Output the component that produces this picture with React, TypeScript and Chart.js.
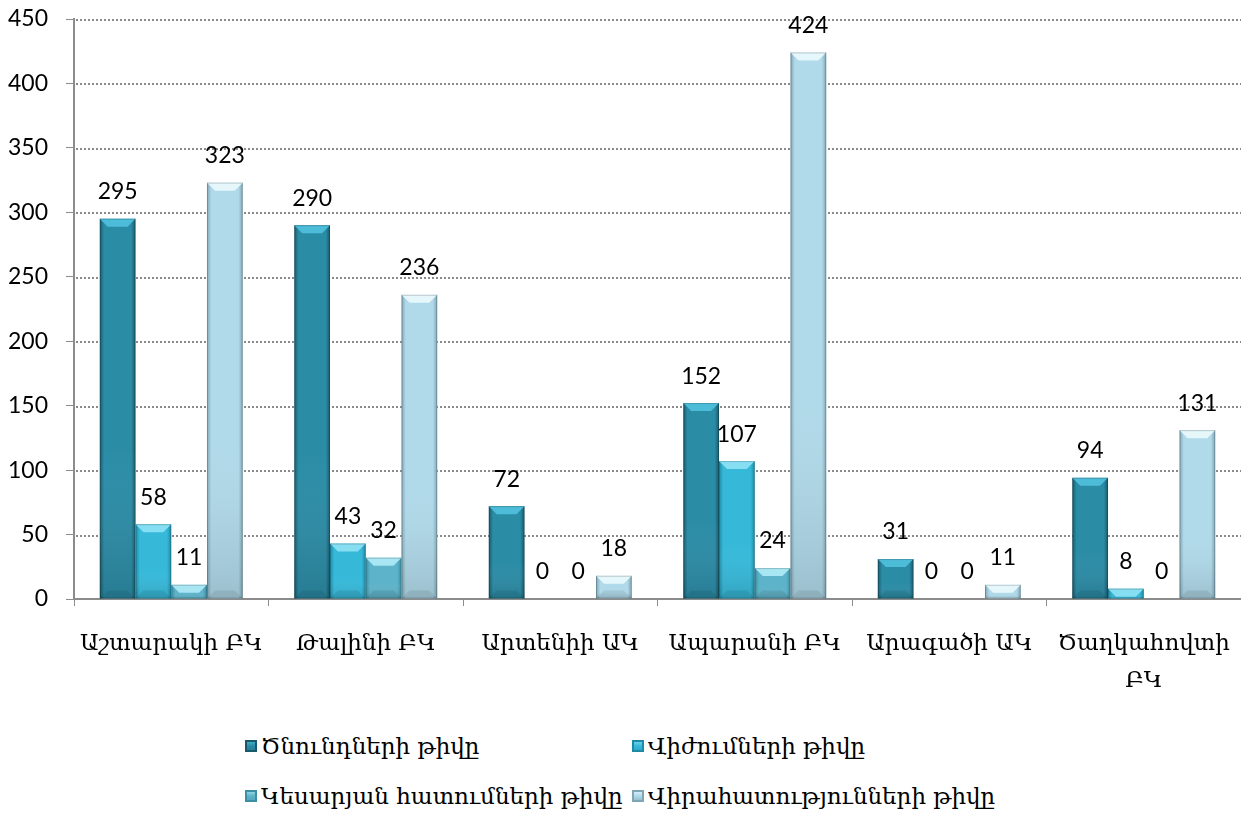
import React, { useEffect, useRef } from "react";
import { Chart, registerables } from "chart.js";

Chart.register(...registerables);

const categories: (string | string[])[] = [
  "Աշտարակի ԲԿ",
  "Թալինի ԲԿ",
  "Արտենիի ԱԿ",
  "Ապարանի ԲԿ",
  "Արագածի ԱԿ",
  ["Ծաղկահովտի", "ԲԿ"],
];

const seriesNames = [
  "Ծնունդների թիվը",
  "Վիժումների թիվը",
  "Կեսարյան հատումների թիվը",
  "Վիրահատությունների թիվը",
];

const births = [295, 290, 72, 152, 31, 94];
const abortions = [58, 43, 0, 107, 0, 8];
const cesareans = [11, 32, 0, 24, 0, 0];
const surgeries = [323, 236, 18, 424, 11, 131];

const yTicks = [0, 50, 100, 150, 200, 250, 300, 350, 400, 450];

const palettes = [
  { base: "#2b8ca6", edge: "#18596b", cap: "#4dbcd8", low: "#237a91" },
  { base: "#36b9d9", edge: "#1f8aa6", cap: "#86def2", low: "#2ea6c4" },
  { base: "#5db3c9", edge: "#3b8ea3", cap: "#a8e6f3", low: "#51a2b7" },
  { base: "#b0d9e9", edge: "#7fa6b5", cap: "#e6f7fc", low: "#8fb1bd" },
];

const NUM_FONT = "Lato, 'Open Sans', sans-serif";
const ARM_FONT = "'DejaVu Serif', 'DejaVu Sans', serif";

const gridPlugin = {
  id: "dottedGrid",
  beforeDatasetsDraw(chart: any) {
    const ctx = chart.ctx as CanvasRenderingContext2D;
    const yScale = chart.scales.y;
    const area = chart.chartArea;
    ctx.save();
    ctx.fillStyle = "#8a8a8a";
    yTicks.forEach((v) => {
      if (v === 0) return;
      const py = Math.round(yScale.getPixelForValue(v));
      for (let px = area.left + 2; px < area.right; px += 4) {
        ctx.fillRect(px, py, 2, 2);
      }
    });
    ctx.restore();
  },
};

const bevelPlugin = {
  id: "bevel",
  afterDatasetsDraw(chart: any) {
    const ctx = chart.ctx as CanvasRenderingContext2D;
    chart.data.datasets.forEach((ds: any, di: number) => {
      const meta = chart.getDatasetMeta(di);
      const p = palettes[di];
      meta.data.forEach((bar: any, i: number) => {
        const v = ds.data[i];
        const { x, y, base, width } = bar.getProps(["x", "y", "base", "width"], true);
        const left = x - width / 2;
        const right = x + width / 2;
        const h = base - y;
        if (h > 0.5) {
          const g = ctx.createLinearGradient(left, 0, right, 0);
          g.addColorStop(0, p.edge);
          g.addColorStop(0.12, p.base);
          g.addColorStop(0.5, p.base);
          g.addColorStop(0.88, p.base);
          g.addColorStop(1, p.edge);
          ctx.save();
          ctx.fillStyle = g;
          ctx.fillRect(left, y, width, h);
          const vg = ctx.createLinearGradient(0, y, 0, base);
          vg.addColorStop(0, "rgba(255,255,255,0)");
          vg.addColorStop(0.6, "rgba(255,255,255,0)");
          vg.addColorStop(1, "rgba(0,0,0,0.12)");
          ctx.fillStyle = vg;
          ctx.fillRect(left, y, width, h);
          const cap = Math.min(8, h);
          ctx.fillStyle = p.cap;
          ctx.beginPath();
          ctx.moveTo(left, y);
          ctx.lineTo(right, y);
          ctx.lineTo(right - cap, y + cap);
          ctx.lineTo(left + cap, y + cap);
          ctx.closePath();
          ctx.fill();
          if (h > 20) {
            ctx.fillStyle = "rgba(0,0,0,0.08)";
            ctx.beginPath();
            ctx.moveTo(left, base);
            ctx.lineTo(right, base);
            ctx.lineTo(right - 8, base - 8);
            ctx.lineTo(left + 8, base - 8);
            ctx.closePath();
            ctx.fill();
          }
          ctx.strokeStyle = "rgba(0,0,0,0.18)";
          ctx.lineWidth = 1;
          ctx.strokeRect(left + 0.5, y + 0.5, width - 1, h - 1);
          ctx.restore();
        }
        ctx.save();
        ctx.fillStyle = "#000";
        ctx.font = `23px ${NUM_FONT}`;
        ctx.textAlign = "center";
        ctx.textBaseline = "middle";
        ctx.fillText(String(v), x, y - 27);
        ctx.restore();
      });
    });
  },
};

function Marker({ p }: { p: (typeof palettes)[number] }) {
  return (
    <span
      style={{
        display: "inline-block",
        width: 12,
        height: 12,
        marginRight: 4,
        background: `linear-gradient(to bottom, ${p.cap}, ${p.base} 50%, ${p.low})`,
        boxShadow: `inset 0 0 0 2px ${p.edge}`,
        verticalAlign: "middle",
      }}
    />
  );
}

export default function App() {
  const ref = useRef<HTMLCanvasElement | null>(null);

  useEffect(() => {
    if (!ref.current) return;
    const H = 710;
    const all = [births, abortions, cesareans, surgeries];
    const chart = new Chart(ref.current, {
      type: "bar",
      data: {
        labels: categories as any,
        datasets: all.map((d, i) => ({
          label: seriesNames[i],
          data: d,
          backgroundColor: "rgba(0,0,0,0)",
          borderWidth: 0,
          barPercentage: 1,
          categoryPercentage: 0.735,
        })),
      },
      options: {
        responsive: false,
        animation: false,
        devicePixelRatio: 1,
        layout: { padding: { top: 19, right: 0, left: 0, bottom: 0 } },
        plugins: { legend: { display: false }, tooltip: { enabled: false } },
        scales: {
          x: {
            offset: true,
            grid: {
              display: true,
              drawOnChartArea: false,
              drawTicks: true,
              tickLength: 7,
              color: "#8c8c8c",
              offset: true,
            },
            border: { display: true, color: "#8c8c8c", width: 2 },
            ticks: {
              color: "#000",
              padding: 20,
              maxRotation: 0,
              autoSkip: false,
              font: { family: ARM_FONT, size: 23, lineHeight: 1.6 },
            },
            afterFit: (s: any) => {
              s.height = H - 599;
              s.paddingLeft = 0;
              s.paddingRight = 0;
              s.paddingTop = 0;
              s.paddingBottom = 0;
            },
          },
          y: {
            min: 0,
            max: 450,
            afterBuildTicks: (s: any) => {
              s.ticks = yTicks.map((v) => ({ value: v }));
            },
            grid: {
              display: true,
              drawOnChartArea: false,
              drawTicks: true,
              tickLength: 8,
              color: "#8c8c8c",
            },
            border: { display: true, color: "#8c8c8c", width: 2 },
            ticks: {
              color: "#000",
              padding: 18,
              font: { family: NUM_FONT, size: 23 },
            },
            afterFit: (s: any) => {
              s.width = 74;
              s.paddingTop = 0;
              s.paddingBottom = 0;
              s.paddingLeft = 0;
              s.paddingRight = 0;
            },
          },
        },
      },
      plugins: [gridPlugin, bevelPlugin],
    } as any);
    return () => chart.destroy();
  }, []);

  const legendItem = (i: number) => (
    <div style={{ display: "flex", alignItems: "center", whiteSpace: "nowrap" }}>
      <Marker p={palettes[i]} />
      <span>{seriesNames[i]}</span>
    </div>
  );

  return (
    <div style={{ position: "fixed", left: 0, top: 0, width: 1241, height: 816, background: "#fff" }}>
      <canvas ref={ref} width={1241} height={710} style={{ display: "block" }} />
      <div
        style={{
          position: "absolute",
          left: 245,
          top: 732,
          display: "grid",
          gridTemplateColumns: "387px 387px",
          rowGap: 22,
          fontFamily: ARM_FONT,
          fontSize: 23,
          lineHeight: "28px",
          color: "#000",
        }}
      >
        {legendItem(0)}
        {legendItem(1)}
        {legendItem(2)}
        {legendItem(3)}
      </div>
    </div>
  );
}
